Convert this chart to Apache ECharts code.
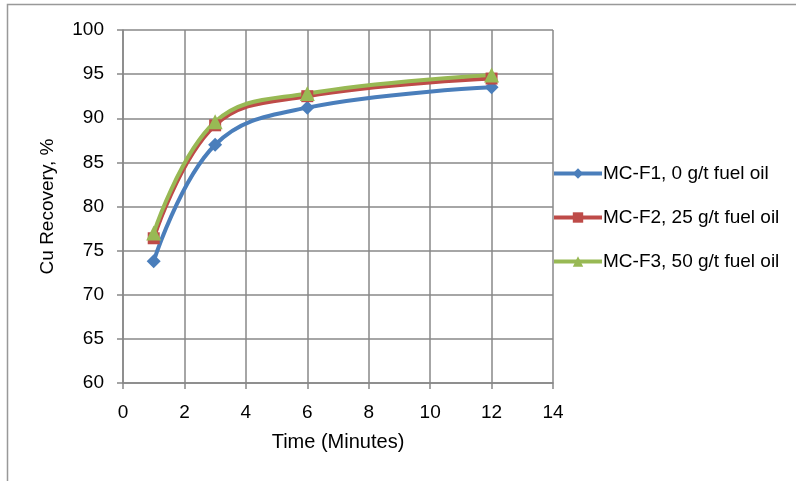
<!DOCTYPE html>
<html><head><meta charset="utf-8">
<script src="https://cdn.jsdelivr.net/npm/echarts@6/dist/echarts.min.js"></script>
<style>html,body{margin:0;padding:0;background:#fff}#c{width:796px;height:481px}</style>
</head><body><div id="c"></div>
<script>
const times = [1, 3, 6, 12];
const seriesNames = ['MC-F1, 0 g/t fuel oil', 'MC-F2, 25 g/t fuel oil', 'MC-F3, 50 g/t fuel oil'];
const f1 = [73.8, 87.0, 91.2, 93.5];
const f2 = [76.4, 89.2, 92.5, 94.5];
const f3 = [77.0, 89.6, 92.8, 94.9];
const colors = ['#4A7EBB', '#BE4B48', '#98B954'];
const symbols = ['diamond', 'rect', 'triangle'];
const symbolSizes = [14, 12, 15];
const vals = [f1, f2, f3];

const chart = echarts.init(document.getElementById('c'));
const font = 'Liberation Sans, Arial, sans-serif';
chart.setOption({
  animation: false,
  graphic: [{type: 'rect', shape: {x: 7.5, y: 4.5, width: 900, height: 600}, style: {fill: 'none', stroke: '#999', lineWidth: 1.5}, silent: true}],
  grid: {left: 123, right: 243, top: 30, bottom: 98, containLabel: false},
  xAxis: {
    type: 'value', min: 0, max: 14, interval: 2,
    name: 'Time (Minutes)', nameLocation: 'middle', nameGap: 49,
    nameTextStyle: {fontSize: 20, color: '#000', fontFamily: font},
    axisLine: {show: true, onZero: false, lineStyle: {color: '#888', width: 1.5}},
    axisTick: {show: true, length: 6, lineStyle: {color: '#888', width: 1.5}},
    axisLabel: {fontSize: 19, color: '#000', fontFamily: font, margin: 20},
    splitLine: {show: true, lineStyle: {color: '#888', width: 1.5}}
  },
  yAxis: {
    type: 'value', min: 60, max: 100, interval: 5,
    name: 'Cu Recovery, %', nameLocation: 'middle', nameGap: 66,
    nameTextStyle: {fontSize: 19, color: '#000', fontFamily: font},
    axisLine: {show: true, lineStyle: {color: '#888', width: 1.5}},
    axisTick: {show: true, length: 6, lineStyle: {color: '#888', width: 1.5}},
    axisLabel: {fontSize: 19, color: '#000', fontFamily: font, margin: 19},
    splitLine: {show: true, lineStyle: {color: '#888', width: 1.5}}
  },
  legend: {
    orient: 'vertical', left: 547, top: 159, itemWidth: 48, itemHeight: 13, itemGap: 25,
    textStyle: {fontSize: 19, color: '#000', fontFamily: font, padding: [0, 0, 0, -4]},
    lineStyle: {width: 4},
    data: seriesNames
  },
  series: seriesNames.map((n, i) => ({
    name: n, type: 'line', smooth: 0.4,
    data: times.map((t, j) => [t, vals[i][j]]),
    symbol: symbols[i], symbolSize: symbolSizes[i],
    lineStyle: {color: colors[i], width: 4},
    itemStyle: {color: colors[i]}
  }))
});
</script></body></html>
